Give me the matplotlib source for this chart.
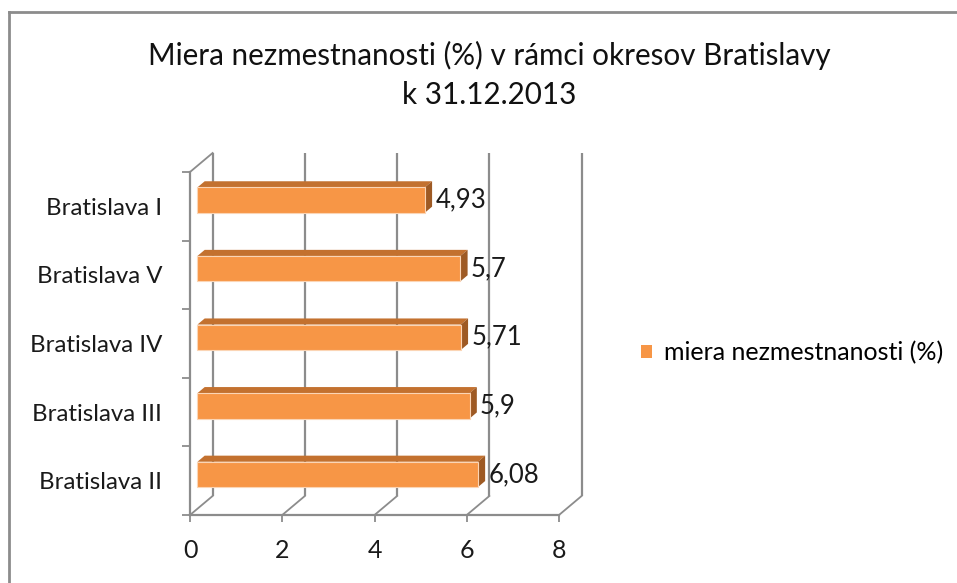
import matplotlib
matplotlib.use("Agg")
import matplotlib.pyplot as plt
from matplotlib.patches import Polygon, Rectangle, Patch

plt.rcParams['font.family'] = ['Lato', 'DejaVu Sans']

# data (top to bottom as in the chart)
categories = ['Bratislava I', 'Bratislava V', 'Bratislava IV', 'Bratislava III', 'Bratislava II']
values = [4.93, 5.7, 5.71, 5.9, 6.08]
xticks = [0, 2, 4, 6, 8]
series_name = 'miera nezmestnanosti (%)'
title = 'Miera nezmestnanosti (%) v rámci okresov Bratislavy\nk 31.12.2013'

front = '#F79646'
top_col = '#C3712F'
side_col = '#9E5A24'
grid_col = '#8C8C8C'
txt_col = '#1A1A1A'

W, H = 957, 583
fig = plt.figure(figsize=(W / 100, H / 100), dpi=100)
ax = fig.add_axes([190 / W, (H - 515) / H, 369 / W, 343 / H])
n = len(categories)
ax.set_xlim(0, 8)
ax.set_ylim(-0.5, n - 0.5)

# pseudo 3d depth offset (data units)
DX, DY = 0.49, 0.277

# back wall gridlines + floor diagonals
for x in xticks:
    ax.plot([x + DX, x + DX], [-0.5 + DY, n - 0.5 + DY], color=grid_col, lw=1.6,
            zorder=1, clip_on=False, solid_capstyle='butt')
    ax.plot([x, x + DX], [-0.5, -0.5 + DY], color=grid_col, lw=1.3, zorder=1, clip_on=False)
# left wall top edge
ax.plot([0, DX], [n - 0.5, n - 0.5 + DY], color=grid_col, lw=1.3, zorder=1, clip_on=False)

# bars
f0, f1 = 0.33, 0.65
h = 0.37
for k, (cat, v) in enumerate(zip(categories, values)):
    i = n - 1 - k
    x0 = f0 * DX
    y0 = i - h / 2 + f0 * DY
    y1 = y0 + h
    ddx, ddy = (f1 - f0) * DX, (f1 - f0) * DY
    ax.add_patch(Polygon([(x0, y1), (x0 + v, y1), (x0 + v + ddx, y1 + ddy), (x0 + ddx, y1 + ddy)],
                         closed=True, facecolor=top_col, edgecolor='none', zorder=3))
    ax.add_patch(Polygon([(x0 + v, y0), (x0 + v, y1), (x0 + v + ddx, y1 + ddy), (x0 + v + ddx, y0 + ddy)],
                         closed=True, facecolor=side_col, edgecolor='none', zorder=3))
    ax.add_patch(Rectangle((x0, y0), v, h, facecolor=front, edgecolor='#FBD5B5', lw=0.8, zorder=4))
    ax.text(x0 + v + ddx + 0.07, i + f0 * DY, f'{v:g}'.replace('.', ','),
            ha='left', va='center', fontsize=18.5, color=txt_col, zorder=5)

# axes styling
for s in ['top', 'right']:
    ax.spines[s].set_visible(False)
ax.spines['left'].set_color(grid_col)
ax.spines['bottom'].set_color(grid_col)
ax.spines['left'].set_linewidth(1.6)
ax.spines['bottom'].set_linewidth(1.6)
ax.set_xticks(xticks)
ax.set_xticklabels([str(t) for t in xticks], fontsize=18, color=txt_col)
ax.tick_params(axis='x', length=5, width=1.3, color=grid_col, pad=12)
ax.set_yticks([y - 0.5 for y in range(n + 1)])
ax.set_yticklabels([])
ax.tick_params(axis='y', length=6, width=1.3, color=grid_col)
ax.set_yticks(list(range(n)), minor=True)
ax.set_yticklabels(categories[::-1], minor=True, fontsize=17.3, color=txt_col)
ax.tick_params(axis='y', which='minor', length=0, pad=20)
ax.set_facecolor('none')

# title
fig.text(489 / W, 1 - 75 / H, title, ha='center', va='center', fontsize=21.3,
         color='#111111', linespacing=1.45)

# legend
fig.legend(handles=[Patch(facecolor=front, edgecolor='none', label=series_name)],
           loc='center left', bbox_to_anchor=(641 / W, 1 - 353 / H), frameon=False,
           fontsize=18, handlelength=0.45, handleheight=0.45, handletextpad=0.45,
           borderpad=0, borderaxespad=0)

# chart border
fig.add_artist(plt.Line2D([9 / W, 9 / W], [0, 1 - 12 / H], color='#8C8C8C', lw=2))
fig.add_artist(plt.Line2D([9 / W, 1], [1 - 12 / H, 1 - 12 / H], color='#8C8C8C', lw=2))

fig.savefig('out.png', dpi=100)
